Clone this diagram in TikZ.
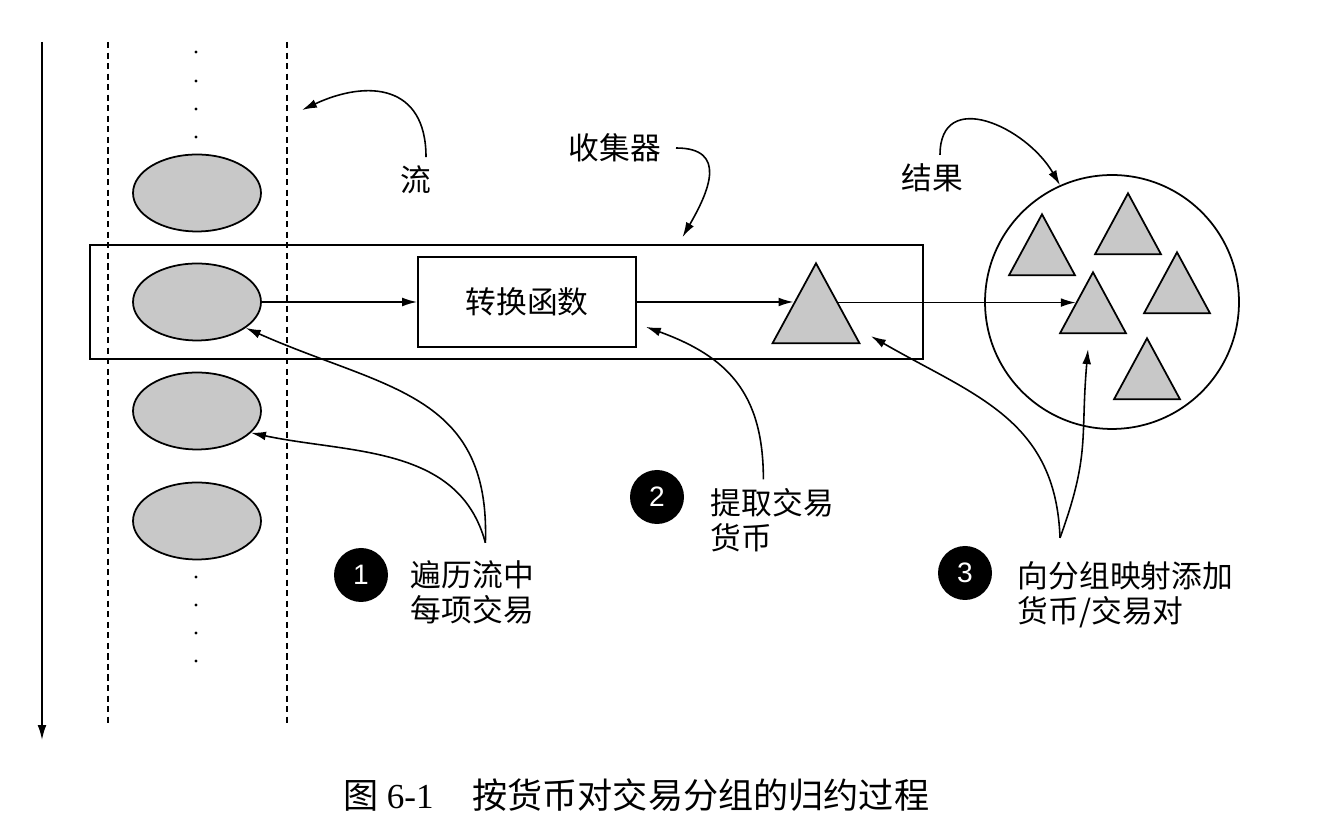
\documentclass[tikz,border=0pt]{standalone}
\usepackage{fontspec}
\setmainfont{Noto Sans CJK SC}
\newfontfamily\numfont{Liberation Sans}
\newfontfamily\serifnum{Liberation Serif}
\usetikzlibrary{arrows.meta,shapes.geometric,calc}
\definecolor{grigio}{HTML}{C8C8C8}
\tikzset{
    freccia/.style={-{Latex[length=8.5pt,width=5pt]},line width=0.9pt},
    ovale/.style={ellipse,draw,fill=grigio,minimum width=2.56cm,minimum height=1.54cm,inner sep=0},
    triangolo/.style={isosceles triangle,isosceles triangle stretches,shape border rotate=90,draw,fill=grigio,inner sep=0,anchor=apex},
    numero/.style={circle,fill=black,text=white,minimum size=1.08cm,inner sep=0,font=\numfont\fontsize{16}{16}\selectfont},
    etichetta/.style={font=\fontsize{17.5}{20}\selectfont,inner sep=0},
    nota/.style={etichetta,align=left,anchor=west},
    tratteggio/.style={dash pattern=on 3.5pt off 2.5pt}
}
\begin{document}
\begin{tikzpicture}[x=0.02cm,y=0.02cm,line width=1pt]
        \useasboundingbox (0,0) rectangle (1318,824);
        % asse del tempo e flusso
        \draw[freccia] (42,782) -- (42,84);
        \draw[tratteggio] (108,782) -- (108,97);
        \draw[tratteggio] (287,782) -- (287,97);
        \foreach \y in {772,743,715,687,247,219,191,163}
            \fill (196,\y) circle (1.7);
        \node[ovale] (e1) at (197,631) {};
        \node[ovale] (e2) at (197,522) {};
        \node[ovale] (e3) at (197,413) {};
        \node[ovale] (e4) at (197,303) {};

        % collettore
        \node[draw,minimum width=16.66cm,minimum height=2.28cm,inner sep=0] (coll) at (506.5,522) {};
        \node[draw,etichetta,minimum width=4.36cm,minimum height=1.8cm] (fn) at (527,522) {转换函数};
        \node[triangolo,minimum width=1.74cm,minimum height=1.6cm] (ctri) at (816,563) {};

        % risultato
        \node[circle,draw,minimum size=5.08cm,inner sep=0] (res) at (1112,522) {};
        \foreach \n/\x/\y in {1/1042/612,2/1128/633,3/1093/554,4/1177/574,5/1147/488}
            \node[triangolo,minimum width=1.32cm,minimum height=1.22cm] (t\n) at (\x,\y) {};

        \draw[freccia] (e2.east) -- (fn.west);
        \draw[freccia] (fn.east) -- (fn.east -| ctri.left side);
        \draw[freccia] (ctri.right side) -- (ctri.right side -| t3.left side);

        % etichette in alto
        \node[etichetta] (flusso) at (416,644) {流};
        \coordinate (bordo) at (302,714);
        \draw[freccia] ($(flusso.north)+(10,8)$) to[out=90,in=25,looseness=1.4] (bordo);
        \node[etichetta] (racc) at (615,676) {收集器};
        \draw[freccia] ($(racc.east)+(14,0)$) to[out=0,in=60,looseness=1.5] ($(coll.north)+(176,7)$);
        \node[etichetta] (risultato) at (932,646) {结果};
        \draw[freccia] ($(risultato.north)+(8,8)$) to[out=90,in=120,looseness=1.4] (res.114);

        % passi
        \node[numero] (n1) at (361,249) {1};
        \node[nota] (s1) at (410,231.5) {遍历流中\\每项交易};
        \draw[freccia] ($(s1.north)+(13,17)$) to[out=88,in=-24,looseness=1.2] (e2.-28);
        \draw[freccia] ($(s1.north)+(13,17)$) to[out=105,in=-12] (e3.-22);

        \node[numero] (n2) at (657,327) {2};
        \node[nota] (s2) at (710,304) {提取交易\\货币};
        \draw[freccia] ($(s2.north)+(-9,8)$) to[out=90,in=-20,looseness=1.15] ($(fn.south east)+(9,21)$);

        \node[numero] (n3) at (965,251) {3};
        \node[nota] (s3) at (1017,229) {向分组映射添加\\货币/交易对};
        \draw[freccia] ($(s3.north west)+(43,23)$) to[out=92,in=-30,looseness=1.1] ($(ctri.right corner)+(10,8)$);
        \draw[freccia] ($(s3.north west)+(43,23)$) to[out=70,in=-95,looseness=1.2] ($(t3.lower side)+(-5,-15)$);

        \node[anchor=west,inner sep=0,font=\fontsize{20}{20}\selectfont] (didascalia) at (343,29) {图 {\serifnum 6-1}\hspace{1.1em}按货币对交易分组的归约过程};
\end{tikzpicture}
\end{document}
